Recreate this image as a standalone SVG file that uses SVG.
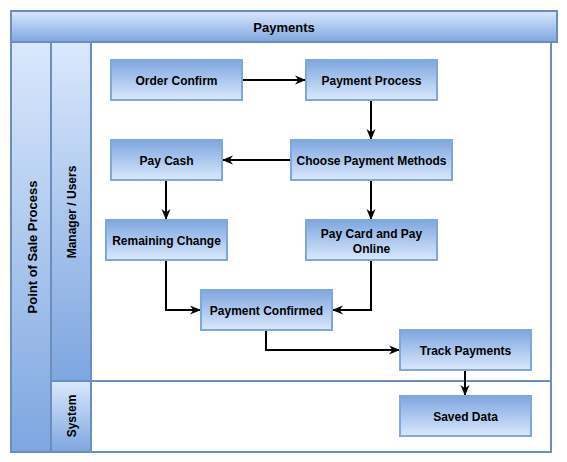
<svg xmlns="http://www.w3.org/2000/svg" width="567" height="462" viewBox="0 0 567 462">
<defs>
<linearGradient id="gHead" x1="0" y1="0" x2="0" y2="1"><stop offset="0" stop-color="#dae8fc"/><stop offset="1" stop-color="#7ea6e0"/></linearGradient>
<linearGradient id="gNode" x1="0" y1="0" x2="0" y2="1"><stop offset="0" stop-color="#7ea6e0"/><stop offset="1" stop-color="#dae8fc"/></linearGradient>
<marker id="arr" viewBox="0 0 11 11" refX="11" refY="5.5" markerWidth="11" markerHeight="11" markerUnits="userSpaceOnUse" orient="auto">
<path d="M0,1 L11,5.5 L0,10 L3.3,5.5 Z" fill="#000"/>
</marker>
<style>
.lane{fill:#fff;stroke:#6c8ebf;stroke-width:2}
.head{fill:url(#gHead);stroke:#6c8ebf;stroke-width:2}
.node rect{fill:url(#gNode);stroke:#7ea6e0;stroke-width:2}
text{font-family:"Liberation Sans",Arial,Helvetica,sans-serif;font-weight:bold;font-size:12px;fill:#000;text-anchor:middle;dominant-baseline:central}
.edge{fill:none;stroke:#000;stroke-width:2;marker-end:url(#arr)}
</style>
</defs>
<g id="pool">
<rect class="head" x="11" y="11" width="546" height="31"/>
<text x="284" y="27.5" style="font-size:13px">Payments</text>
<rect class="head" x="11" y="42" width="40" height="410"/>
<text transform="translate(32,247) rotate(-90)" style="font-size:13px">Point of Sale Process</text>
</g>
<g id="lane-manager">
<rect class="lane" x="51" y="42" width="500" height="339"/>
<rect class="head" x="51" y="42" width="40" height="339"/>
<text transform="translate(71.5,212) rotate(-90)">Manager / Users</text>
</g>
<g id="lane-system">
<rect class="lane" x="51" y="381" width="500" height="71"/>
<rect class="head" x="51" y="381" width="40" height="71"/>
<text transform="translate(71.5,416) rotate(-90)">System</text>
</g>
<g id="connectors">
<path class="edge" d="M242,80 H306"/>
<path class="edge" d="M371,100 V140"/>
<path class="edge" d="M291,160 H222"/>
<path class="edge" d="M166,180 V220"/>
<path class="edge" d="M371,180 V220"/>
<path class="edge" d="M166,260 V310 H201"/>
<path class="edge" d="M371,260 V310 H332"/>
<path class="edge" d="M266,330 V350 H400"/>
<path class="edge" d="M465,370 V396"/>
</g>
<g id="order-confirm" class="node"><rect x="111" y="60" width="131" height="40"/><text x="176.5" y="80.5">Order Confirm</text></g>
<g id="payment-process" class="node"><rect x="306" y="60" width="131" height="40"/><text x="371.5" y="80.5">Payment Process</text></g>
<g id="choose-payment" class="node"><rect x="291" y="140" width="161" height="40"/><text x="371.5" y="160.5">Choose Payment Methods</text></g>
<g id="pay-cash" class="node"><rect x="111" y="140" width="111" height="40"/><text x="166.5" y="160.5">Pay Cash</text></g>
<g id="remaining-change" class="node"><rect x="106" y="220" width="121" height="40"/><text x="166.5" y="240.5">Remaining Change</text></g>
<g id="pay-card" class="node"><rect x="306" y="220" width="131" height="40"/><text x="371.5" y="233.5">Pay Card and Pay</text><text x="371.5" y="248.5">Online</text></g>
<g id="payment-confirmed" class="node"><rect x="201" y="290" width="131" height="40"/><text x="266.5" y="310.5">Payment Confirmed</text></g>
<g id="track-payments" class="node"><rect x="400" y="330" width="131" height="40"/><text x="465.5" y="350.5">Track Payments</text></g>
<g id="saved-data" class="node"><rect x="400" y="396" width="131" height="40"/><text x="465.5" y="416.5">Saved Data</text></g>
</svg>
